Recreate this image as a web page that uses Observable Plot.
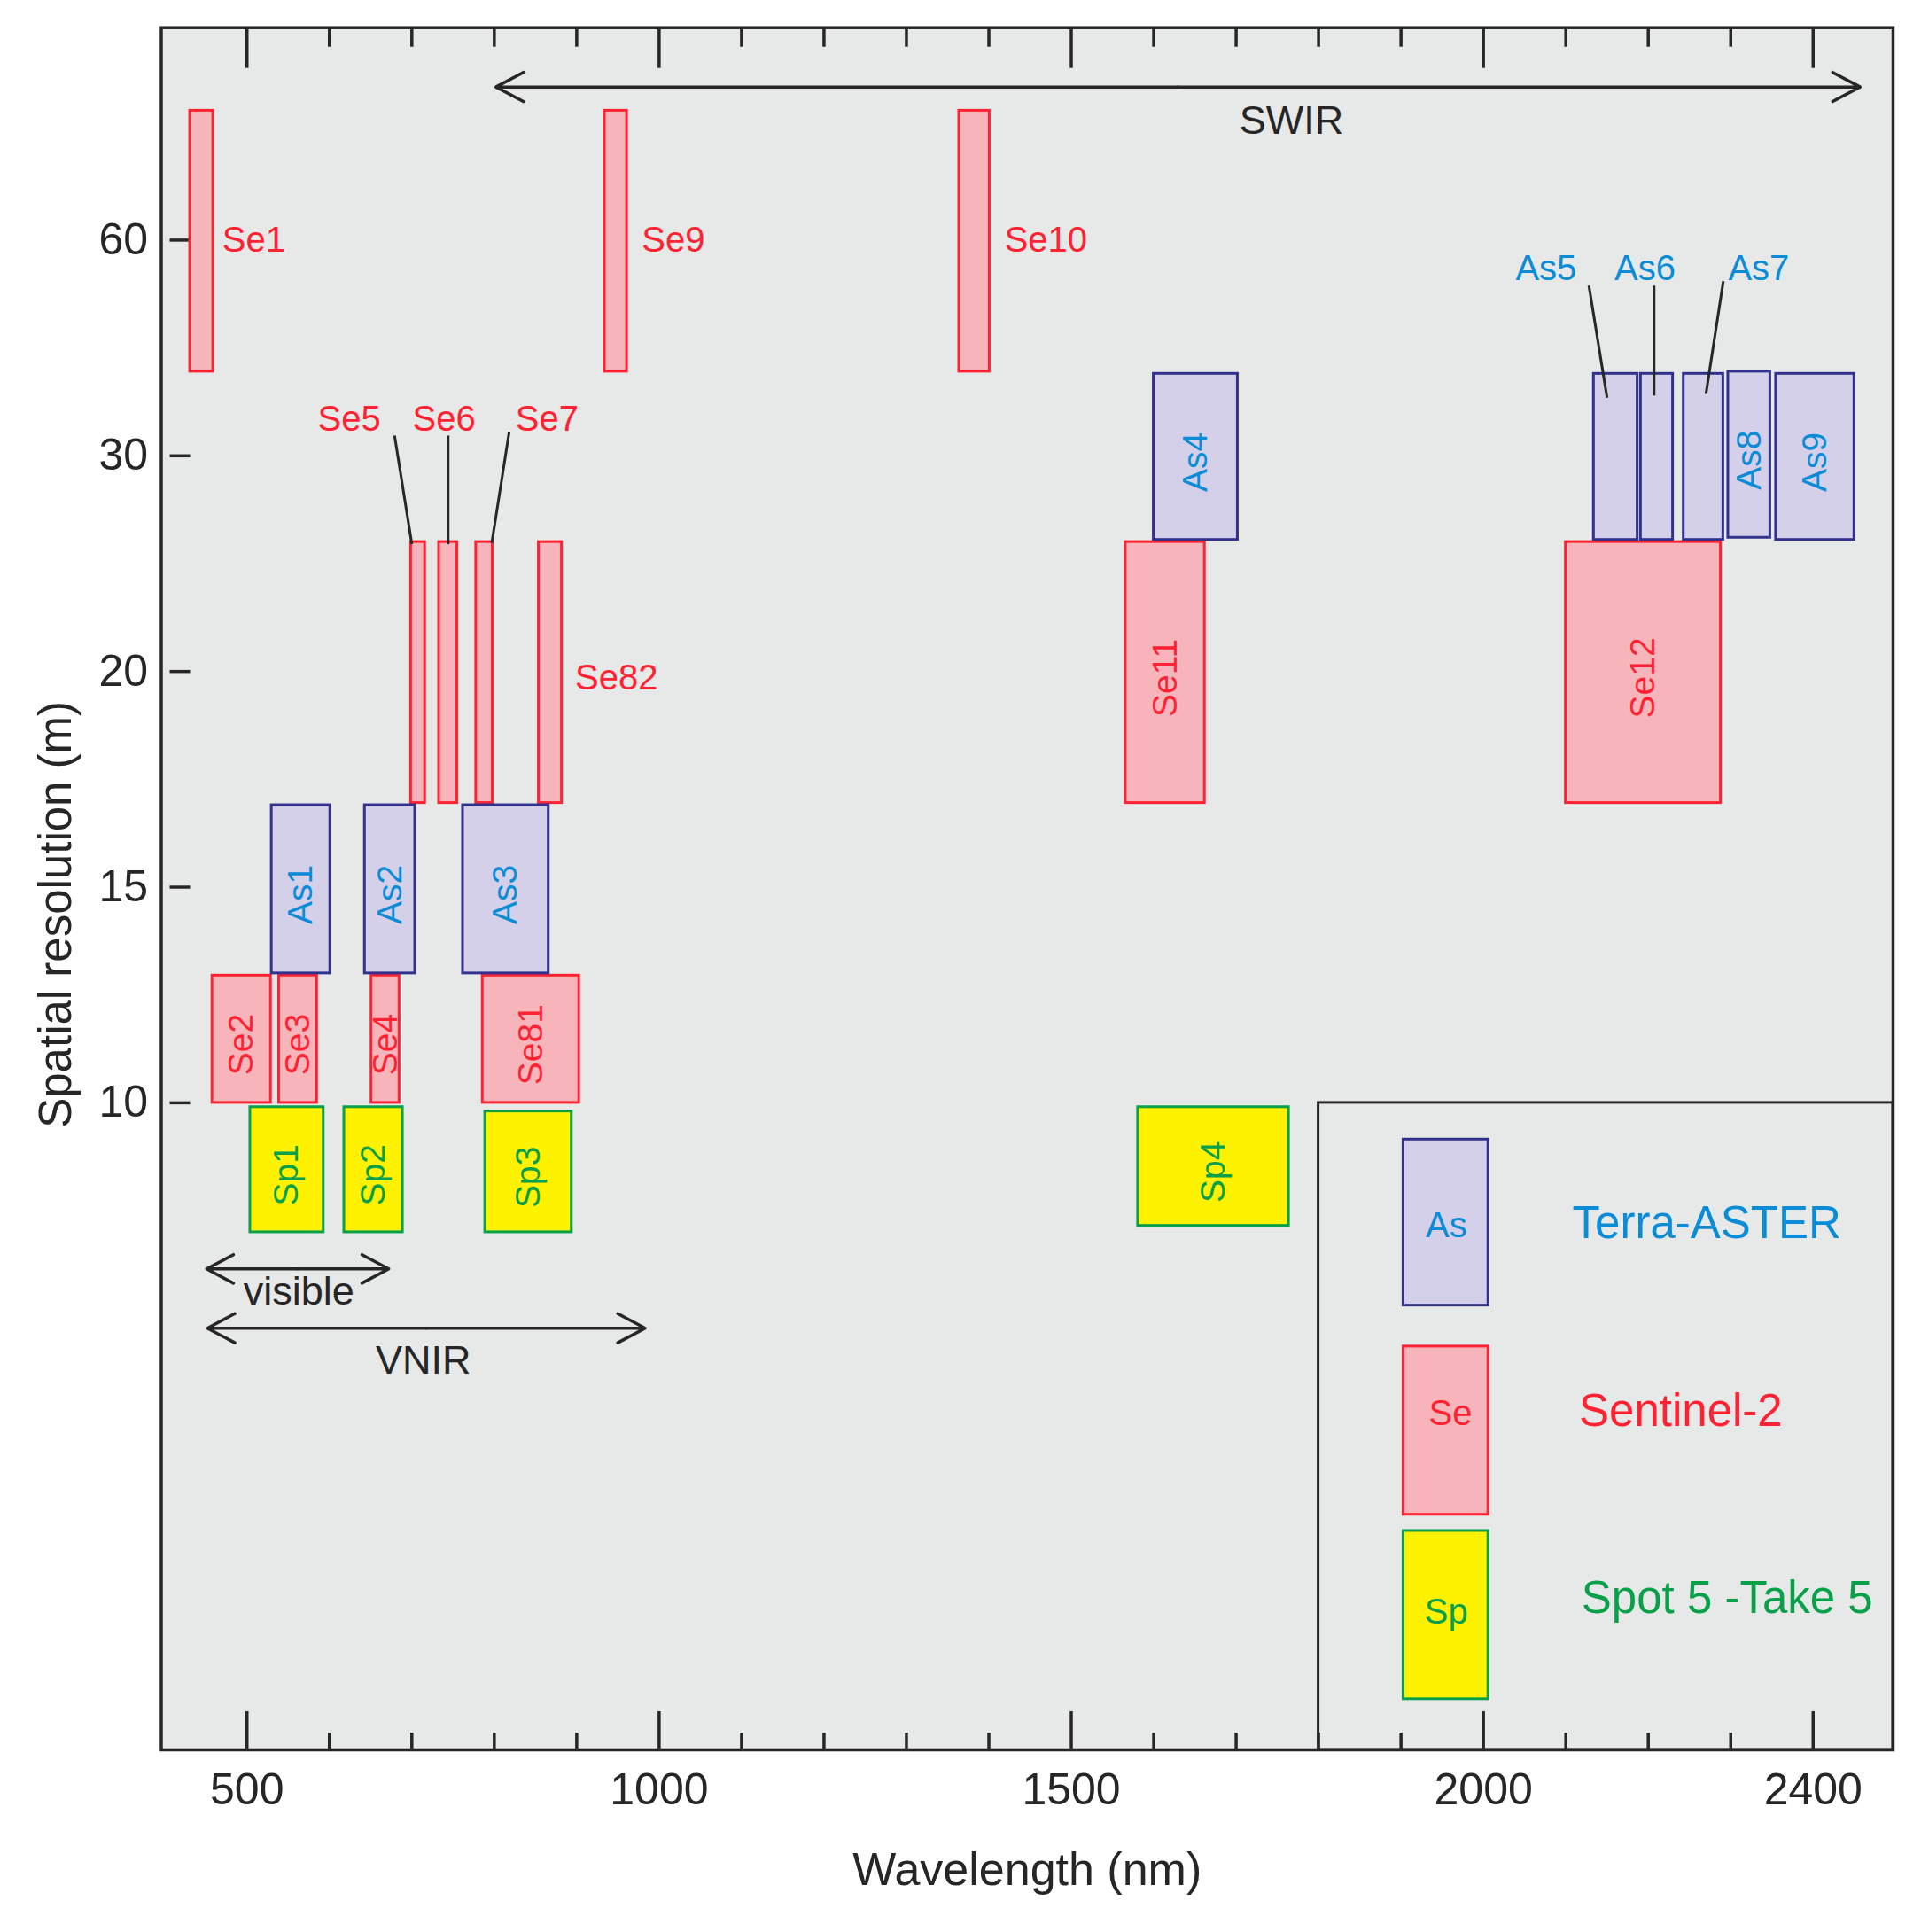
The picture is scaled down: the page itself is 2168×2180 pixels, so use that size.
<!DOCTYPE html>
<html>
<head>
<meta charset="utf-8">
<script src="https://cdn.jsdelivr.net/npm/d3@7"></script>
<script src="https://cdn.jsdelivr.net/npm/@observablehq/plot@0.6"></script>
<style>
  html, body { margin: 0; padding: 0; background: #ffffff; }
  #chart svg { display: block; }
</style>
</head>
<body>
<div id="chart"></div>
<script>
// ---------------- data ----------------
// y axis: ordinal resolution levels drawn evenly spaced (level index 0..4)
const levelTicks  = [0, 1, 2, 3, 4];
const levelLabels = ["10", "15", "20", "30", "60"];

const xMajorTicks = [500, 1000, 1500, 2000, 2400];
const xMinorTicks = [600, 700, 800, 900, 1100, 1200, 1300, 1400, 1600, 1700, 1800, 1900, 2100, 2200, 2300];

// Sentinel-2 bands (nm), vertical extent in level units
const seNames = ["Se1", "Se2", "Se3", "Se4", "Se5", "Se6", "Se7", "Se81", "Se82", "Se9", "Se10", "Se11", "Se12"];
const seStart = [431, 458, 539, 651, 699, 733, 778, 786, 854, 934, 1364, 1566, 2100];
const seEnd   = [459, 529, 585, 685, 716, 755, 798, 903, 882, 961, 1401, 1662, 2288];
const seLo    = [3.39, 0.00, 0.00, 0.00, 1.39, 1.39, 1.39, 0.00, 1.39, 3.39, 3.39, 1.39, 1.39];
const seHi    = [4.60, 0.59, 0.59, 0.59, 2.60, 2.60, 2.60, 0.59, 2.60, 4.60, 4.60, 2.60, 2.60];

// Terra-ASTER bands
const asNames = ["As1", "As2", "As3", "As4", "As5", "As6", "As7", "As8", "As9"];
const asStart = [530, 643, 762, 1600, 2134, 2191, 2243, 2297, 2355];
const asEnd   = [601, 704, 866, 1702, 2187, 2230, 2291, 2348, 2450];
const asLo    = [0.60, 0.60, 0.60, 2.61, 2.61, 2.61, 2.61, 2.62, 2.61];
const asHi    = [1.38, 1.38, 1.38, 3.38, 3.38, 3.38, 3.38, 3.39, 3.38];

// Spot 5 - Take 5 bands
const spNames = ["Sp1", "Sp2", "Sp3", "Sp4"];
const spStart = [504, 618, 789, 1581];
const spEnd   = [593, 689, 894, 1764];
const spLo    = [-0.60, -0.60, -0.60, -0.57];
const spHi    = [-0.02, -0.02, -0.04, -0.02];

// bands labelled inside their box (rotated)
const inBoxNames = ["As1", "As2", "As3", "As4", "As8", "As9", "Se2", "Se3", "Se4", "Se81", "Se11", "Se12", "Sp1", "Sp2", "Sp3", "Sp4"];

// labels placed to the right of a box
const sideLabelNames = ["Se1", "Se9", "Se10", "Se82"];
const sideLabelX     = [470, 979, 1419, 898];
const sideLabelY     = [4.0, 4.0, 4.0, 1.97];

// labels placed above, with leader lines
const topLabelNames  = ["Se5", "Se6", "Se7", "As5", "As6", "As7"];
const topLabelX      = [624, 739, 864, 2076, 2196, 2334];
const topLabelY      = [3.17, 3.17, 3.17, 3.868, 3.868, 3.868];
const leaderX1       = [679, 744, 818, 2128, 2207, 2291];
const leaderY1       = [3.094, 3.094, 3.109, 3.789, 3.789, 3.81];
const leaderX2       = [700, 744, 797, 2150, 2207, 2270];
const leaderY2       = [2.59, 2.59, 2.596, 3.269, 3.279, 3.287];

// spectral ranges (double-headed arrows)
const rangeNames  = ["SWIR", "visible", "VNIR"];
const rangeFrom   = [802, 451, 452];
const rangeTo     = [2457, 672, 983];
const rangeLevel  = [4.71, -0.77, -1.045];
const rangeLabelX = [1767, 563, 714];
const rangeLabelY = [4.55, -0.875, -1.198];

// legend
const legendFrameX   = [1800, 2497];
const legendFrameY   = [-3, 0];
const legendSensors  = ["As", "Se", "Sp"];
const legendNames    = ["Terra-ASTER", "Sentinel-2", "Spot 5 -Take 5"];
const legendBoxStart = [1903, 1903, 1903];
const legendBoxEnd   = [2006, 2006, 2006];
const legendBoxLo    = [-0.94, -1.91, -2.765];
const legendBoxHi    = [-0.17, -1.13, -1.985];
const legendKeyX     = [1955, 1960, 1955];
const legendKeyY     = [-0.57, -1.44, -2.36];
const legendTextX    = [2108, 2116, 2119];
const legendTextY    = [-0.56, -1.43, -2.30];

// ---------------- styling ----------------
const colors = {
  As: {fill: "#d4d0e9", stroke: "#32328c", text: "#0a8cd7"},
  Se: {fill: "#f7b5bb", stroke: "#ff2233", text: "#ff2233"},
  Sp: {fill: "#fff200", stroke: "#09a04a", text: "#09a04a"}
};
const ink = "#262626";
const W = 2168, H = 2180, ML = 181.5, MR = 32, MT = 30.7, MB = 206;
const FW = W - ML - MR, FH = H - MT - MB;

// ---------------- tables ----------------
const bands = [
  ...seNames.map((n, i) => ({sensor: "Se", name: n, x1: seStart[i], x2: seEnd[i], y1: seLo[i], y2: seHi[i]})),
  ...asNames.map((n, i) => ({sensor: "As", name: n, x1: asStart[i], x2: asEnd[i], y1: asLo[i], y2: asHi[i]})),
  ...spNames.map((n, i) => ({sensor: "Sp", name: n, x1: spStart[i], x2: spEnd[i], y1: spLo[i], y2: spHi[i]}))
];
const sensorOf = n => n.slice(0, 2);
const sideLabels = sideLabelNames.map((n, i) => ({name: n, x: sideLabelX[i], y: sideLabelY[i]}));
const topLabels = topLabelNames.map((n, i) => ({name: n, x: topLabelX[i], y: topLabelY[i],
  lx1: leaderX1[i], ly1: leaderY1[i], lx2: leaderX2[i], ly2: leaderY2[i]}));
const ranges = rangeNames.map((n, i) => ({name: n, from: rangeFrom[i], to: rangeTo[i], y: rangeLevel[i],
  lx: rangeLabelX[i], ly: rangeLabelY[i]}));
const legend = legendSensors.map((s, i) => ({sensor: s, name: legendNames[i], x1: legendBoxStart[i], x2: legendBoxEnd[i],
  y1: legendBoxLo[i], y2: legendBoxHi[i], kx: legendKeyX[i], ky: legendKeyY[i], tx: legendTextX[i], ty: legendTextY[i]}));

const sensorMarks = [];
for (const s of ["Se", "As", "Sp"]) {
  sensorMarks.push(Plot.rect(bands.filter(d => d.sensor === s), {
    x1: "x1", x2: "x2", y1: "y1", y2: "y2",
    fill: colors[s].fill, stroke: colors[s].stroke, strokeWidth: 3
  }));
}
const textMarks = [];
for (const s of ["Se", "As", "Sp"]) {
  textMarks.push(Plot.text(bands.filter(d => d.sensor === s && inBoxNames.includes(d.name)), {
    x: d => (d.x1 + d.x2) / 2, y: d => (d.y1 + d.y2) / 2, text: "name",
    rotate: -90, dy: 6, fill: colors[s].text, fontSize: 39
  }));
  textMarks.push(Plot.text(sideLabels.filter(d => sensorOf(d.name) === s), {
    x: "x", y: "y", text: "name", textAnchor: "start", fill: colors[s].text, fontSize: 40
  }));
  textMarks.push(Plot.text(topLabels.filter(d => sensorOf(d.name) === s), {
    x: "x", y: "y", text: "name", textAnchor: "middle", fill: colors[s].text, fontSize: 40
  }));
  const lg = legend.filter(d => d.sensor === s);
  textMarks.push(Plot.rect(lg, {x1: "x1", x2: "x2", y1: "y1", y2: "y2", fill: colors[s].fill, stroke: colors[s].stroke, strokeWidth: 3}));
  textMarks.push(Plot.text(lg, {x: "kx", y: "ky", text: "sensor", fill: colors[s].text, fontSize: 40}));
  textMarks.push(Plot.text(lg, {x: "tx", y: "ty", text: "name", textAnchor: "start", fill: colors[s].text, fontSize: 51}));
}

const chart = Plot.plot({
  width: W, height: H,
  marginLeft: ML, marginRight: MR, marginTop: MT, marginBottom: MB,
  x: {domain: [396, 2497]},
  y: {domain: [-3, 4.985]},
  style: {fontFamily: "'Liberation Sans', Arial, Helvetica, sans-serif", background: "#ffffff", color: ink},
  marks: [
    Plot.frame({fill: "#e7e8e8", stroke: "none"}),
    // tick marks (inside the frame)
    Plot.ruleX(xMajorTicks, {x: d => d, insetTop: FH - 43, stroke: ink, strokeWidth: 3.5}),
    Plot.ruleX(xMinorTicks, {x: d => d, insetTop: FH - 19, stroke: ink, strokeWidth: 3.5}),
    Plot.ruleX(xMajorTicks, {x: d => d, insetBottom: FH - 46, stroke: ink, strokeWidth: 3.5}),
    Plot.ruleX(xMinorTicks, {x: d => d, insetBottom: FH - 22, stroke: ink, strokeWidth: 3.5}),
    Plot.ruleY(levelTicks, {y: d => d, insetLeft: 10, insetRight: FW - 33, stroke: ink, strokeWidth: 3.5}),
    // tick labels
    Plot.axisX({ticks: xMajorTicks, tickFormat: d3.format("d"), tickSize: 0, tickPadding: 26, fontSize: 50, label: null, fill: ink}),
    Plot.axisY({ticks: levelTicks, tickFormat: i => levelLabels[i], tickSize: 0, tickPadding: 15, fontSize: 50, label: null, fill: ink}),
    // legend frame
    Plot.rect([0], {x1: legendFrameX[0], x2: legendFrameX[1], y1: legendFrameY[0], y2: legendFrameY[1], fill: "none", stroke: ink, strokeWidth: 3}),
    // bands
    ...sensorMarks,
    // leader lines
    Plot.link(topLabels, {x1: "lx1", y1: "ly1", x2: "lx2", y2: "ly2", stroke: ink, strokeWidth: 3}),
    // spectral range arrows (double headed)
    Plot.arrow(ranges, {x1: d => (d.from + d.to) / 2, x2: "from", y1: "y", y2: "y", stroke: ink, strokeWidth: 3.5, headLength: 15, headAngle: 56}),
    Plot.arrow(ranges, {x1: d => (d.from + d.to) / 2, x2: "to", y1: "y", y2: "y", stroke: ink, strokeWidth: 3.5, headLength: 15, headAngle: 56}),
    Plot.text(ranges, {x: "lx", y: "ly", text: "name", fill: ink, fontSize: 45}),
    ...textMarks,
    // axis titles
    Plot.text(["Wavelength (nm)"], {frameAnchor: "bottom", text: d => d, textAnchor: "middle", lineAnchor: "middle", dy: 136, fontSize: 52, fill: ink}),
    Plot.text(["Spatial resolution (m)"], {frameAnchor: "left", text: d => d, textAnchor: "middle", lineAnchor: "middle", rotate: -90, dx: -118, dy: 29, fontSize: 51, fill: ink}),
    Plot.frame({stroke: ink, strokeWidth: 3.5})
  ]
});
document.getElementById("chart").appendChild(chart);
</script>
</body>
</html>
